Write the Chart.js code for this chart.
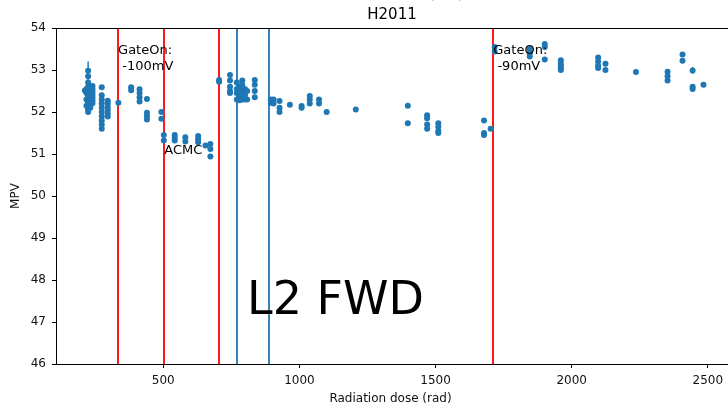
<!DOCTYPE html>
<html>
<head>
<meta charset="utf-8">
<script src="https://cdn.jsdelivr.net/npm/chart.js@4.4.1/dist/chart.umd.min.js"></script>
<style>
html,body{margin:0;padding:0;background:#fff;}
#wrap{width:728px;height:408px;position:relative;}
</style>
</head>
<body>
<div id="wrap"><canvas id="c" width="728" height="408"></canvas></div>
<script>
// ---- data ----
const doseRad = [212, 218, 224, 232, 240, 274, 296, 335, 382, 413, 440, 493, 502, 542, 581, 628, 655, 673,
  705, 745, 770, 780, 790, 800, 808, 836, 895, 905, 927, 965, 1008, 1038, 1072, 1100, 1207,
  1398, 1469, 1510, 1678, 1702, 1717, 1846, 1901, 1960, 2097, 2124, 2236, 2352, 2407, 2444, 2484];
const mpvByDose = [
  [52.51],
  [52.55, 52.45, 52.3, 52.15],
  [52.98, 52.85, 52.7, 52.6, 52.5, 52.45, 52.4, 52.35, 52.3, 52.25, 52.2, 52.15, 52.1, 52.05, 52.0],
  [52.6, 52.5, 52.4, 52.3, 52.2, 52.1],
  [52.62, 52.55, 52.48, 52.42, 52.35, 52.28, 52.21],
  [52.59, 52.4, 52.3, 52.2, 52.1, 52.0, 51.9, 51.8, 51.7, 51.6],
  [52.27, 52.2, 52.12, 52.05, 51.97, 51.89],
  [52.22],
  [52.59, 52.52],
  [52.54, 52.45, 52.35, 52.25],
  [52.31, 51.98, 51.9, 51.82],
  [52.0, 51.84],
  [51.45, 51.32],
  [51.45, 51.38, 51.32],
  [51.40, 51.3],
  [51.43, 51.35, 51.28],
  [51.2],
  [51.24, 51.12, 50.94],
  [52.76, 52.72],
  [52.88, 52.75, 52.6, 52.5, 52.45],
  [52.7, 52.55, 52.45, 52.3],
  [52.6, 52.5, 52.4, 52.35, 52.28],
  [52.75, 52.65, 52.5, 52.3],
  [52.55, 52.4, 52.3],
  [52.5, 52.3],
  [52.76, 52.65, 52.5, 52.35],
  [52.3, 52.22],
  [52.3, 52.2],
  [52.26, 52.1, 52.0],
  [52.17],
  [52.14, 52.1],
  [52.38, 52.3, 52.2],
  [52.3, 52.2],
  [52.0],
  [52.06],
  [52.15, 51.73],
  [51.92, 51.85, 51.7, 51.6],
  [51.73, 51.65, 51.55, 51.5],
  [51.8, 51.5, 51.45],
  [51.6],
  [53.55, 53.44],
  [53.5, 53.4, 53.32],
  [53.62, 53.55, 53.25],
  [53.23, 53.15, 53.1, 53.05, 53.0],
  [53.3, 53.2, 53.1, 53.05],
  [53.15, 53.0],
  [52.95],
  [52.96, 52.85, 52.75],
  [53.37, 53.22],
  [52.99, 52.6, 52.55],
  [52.65]
];
const errDose = [224, 2444, 2097, 1717];
const errCenter = [52.98, 52.99, 53.3, 53.55];
const errHalf = [0.22, 0.08, 0.06, 0.06];

const redLines = [334, 504, 703, 1712];
const blueLines = [769, 887];
const xTicks = [500, 1000, 1500, 2000, 2500];
const yTicks = [46, 47, 48, 49, 50, 51, 52, 53, 54];

const notes = [
  {x: 334, y: 53.45, lines: ['GateOn:', ' -100mV']},
  {x: 504, y: 51.07, lines: ['ACMC']},
  {x: 1712, y: 53.45, lines: ['GateOn:', ' -90mV']}
];

// ---- build points ----
const points = [];
doseRad.forEach((d, i) => mpvByDose[i].forEach(v => points.push({x: d, y: v})));

const FONT = '"DejaVu Sans", sans-serif';
const BLUE = '#1f77b4';

const overlay = {
  id: 'overlay',
  beforeDatasetsDraw(chart) {
    const {ctx, chartArea: a, scales: {x, y}} = chart;
    ctx.save();
    ctx.beginPath();
    ctx.rect(a.left, a.top, a.right - a.left, a.bottom - a.top);
    ctx.clip();
    ctx.lineWidth = 1.8;
    const vline = (v, col) => {
      const px = Math.round(x.getPixelForValue(v));
      ctx.strokeStyle = col;
      ctx.beginPath(); ctx.moveTo(px, a.top); ctx.lineTo(px, a.bottom); ctx.stroke();
    };
    redLines.forEach(v => vline(v, '#ff0000'));
    blueLines.forEach(v => vline(v, BLUE));
    // error bars
    ctx.strokeStyle = BLUE;
    ctx.lineWidth = 1.5;
    errDose.forEach((d, i) => {
      const px = x.getPixelForValue(d);
      ctx.beginPath();
      ctx.moveTo(px, y.getPixelForValue(errCenter[i] + errHalf[i]));
      ctx.lineTo(px, y.getPixelForValue(errCenter[i] - errHalf[i]));
      ctx.stroke();
    });
    ctx.restore();
  },
  afterDraw(chart) {
    const {ctx, chartArea: a, scales: {x, y}} = chart;
    ctx.save();
    // top spine and bottom spine continued to the canvas edge
    ctx.strokeStyle = '#000';
    ctx.lineWidth = 1;
    ctx.beginPath(); ctx.moveTo(a.left, a.top + 0.5); ctx.lineTo(chart.width, a.top + 0.5); ctx.stroke();
    ctx.beginPath(); ctx.moveTo(a.right - 1, a.bottom + 0.5); ctx.lineTo(chart.width, a.bottom + 0.5); ctx.stroke();
    // annotations
    ctx.fillStyle = '#000';
    ctx.font = '13px ' + FONT;
    ctx.textAlign = 'left';
    ctx.textBaseline = 'middle';
    notes.forEach(n => {
      const px = x.getPixelForValue(n.x);
      const py = y.getPixelForValue(n.y);
      n.lines.forEach((t, k) => ctx.fillText(t, px, py + k * 16));
    });
    // big label
    ctx.font = '46px ' + FONT;
    ctx.textAlign = 'left';
    ctx.fillText('L2 FWD', a.left + 191, 302);
    // titles
    const cx = (a.left + chart.width) / 2;
    ctx.textAlign = 'center';
    ctx.font = '15px ' + FONT;
    ctx.fillText('H2011', cx, 15);
    ctx.textBaseline = 'alphabetic';
    ctx.font = '14px ' + FONT;
    ctx.fillStyle = '#666';
    ctx.fillText('Radiation dose (rad)', cx, -1);
    ctx.restore();
  }
};

new Chart(document.getElementById('c'), {
  type: 'scatter',
  data: {
    datasets: [{
      data: points,
      pointRadius: 3,
      pointHoverRadius: 3,
      pointBackgroundColor: BLUE,
      pointBorderWidth: 0,
      showLine: false
    }]
  },
  options: {
    responsive: false,
    animation: false,
    events: [],
    layout: {padding: {top: 28, right: 0, bottom: 0, left: 0}},
    plugins: {legend: {display: false}, tooltip: {enabled: false}, title: {display: false}},
    scales: {
      x: {
        type: 'linear',
        min: 106,
        max: 2563,
        afterBuildTicks: s => { s.ticks = xTicks.map(v => ({value: v})); },
        afterFit: s => { s.height = 44; s.paddingLeft = 0; s.paddingRight = 0; },
        grid: {drawOnChartArea: false, drawTicks: true, tickLength: 4, tickColor: '#000'},
        border: {display: true, color: '#000', width: 1},
        ticks: {color: '#111', font: {family: FONT, size: 12}, padding: 6, maxRotation: 0,
          callback: v => String(v)},
        title: {display: true, text: 'Radiation dose (rad)', color: '#111', font: {family: FONT, size: 12}, padding: {top: 0, bottom: 2}}
      },
      y: {
        type: 'linear',
        min: 46,
        max: 54,
        afterBuildTicks: s => { s.ticks = yTicks.map(v => ({value: v})); },
        afterFit: s => { s.width = 56; },
        grid: {drawOnChartArea: false, drawTicks: true, tickLength: 4, tickColor: '#000'},
        border: {display: true, color: '#000', width: 1},
        ticks: {color: '#111', font: {family: FONT, size: 12}, padding: 6, callback: v => String(v)},
        title: {display: true, text: 'MPV', color: '#111', font: {family: FONT, size: 12}, padding: {top: 9, bottom: 0}}
      }
    }
  },
  plugins: [overlay]
});
</script>
</body>
</html>
